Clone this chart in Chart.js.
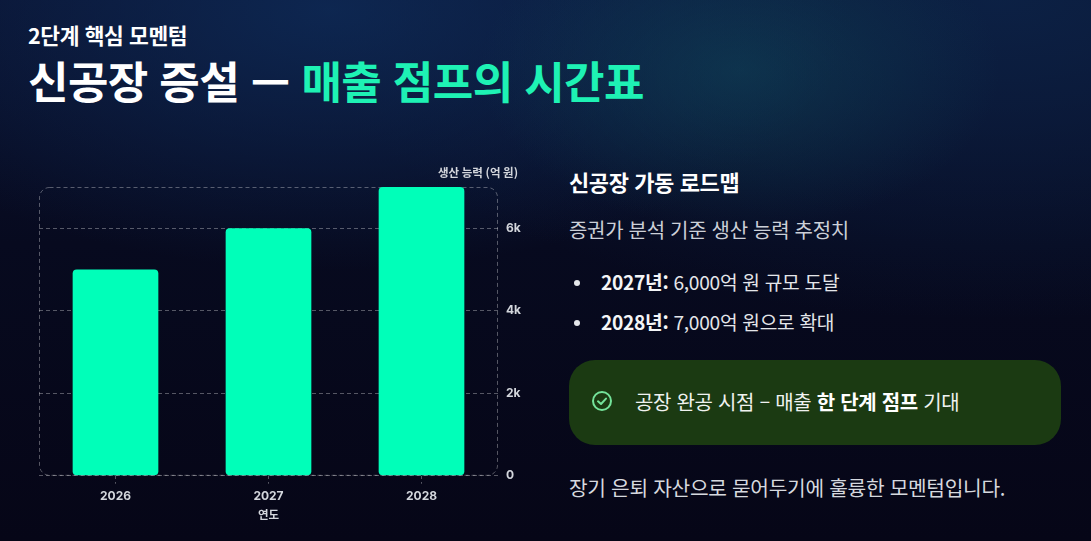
<!DOCTYPE html>
<html lang="ko">
<head>
<meta charset="utf-8">
<script src="https://cdn.jsdelivr.net/npm/chart.js@4/dist/chart.umd.min.js"></script>
<style>
  html, body { margin:0; padding:0; }
  body {
    width:1091px; height:541px; overflow:hidden; position:relative;
    font-family: "Noto Sans CJK KR", "Noto Sans", sans-serif;
    color:#fff;
    background:
      radial-gradient(ellipse 260px 160px at 740px 70px, rgba(16,70,90,0.55), rgba(16,70,90,0) 100%),
      radial-gradient(ellipse 520px 260px at 330px 10px, rgba(14,42,86,0.85), rgba(14,42,86,0) 100%),
      radial-gradient(ellipse 700px 320px at 1000px 0px, rgba(12,34,70,0.9), rgba(12,34,70,0) 100%),
      linear-gradient(180deg, #0a1230 0%, #070a1f 45%, #060617 100%);
  }
  .eyebrow { position:absolute; left:28px; top:19px; font-size:21.5px; font-weight:700; letter-spacing:-0.4px; }
  .title { position:absolute; left:28px; top:54px; font-size:44px; font-weight:700; letter-spacing:-0.6px; line-height:1.2; }
  .title .hl { color:#1ef2b4; }
  .chartwrap { position:absolute; left:0; top:150px; width:560px; height:380px; }
  .right { position:absolute; left:569px; top:0; width:500px; }
  .rh { position:absolute; top:165px; left:0; font-size:22px; font-weight:700; white-space:nowrap; letter-spacing:-0.4px; }
  .rs { position:absolute; top:215px; left:0; font-size:20px; color:#ccd0d8; white-space:nowrap; letter-spacing:-0.3px; }
  .li { position:absolute; left:0; font-size:19.2px; color:#e4e6ea; white-space:nowrap; letter-spacing:-0.3px; }
  .li .dot { position:absolute; left:5px; top:12px; width:6px; height:6px; border-radius:50%; background:#e4e6ea; }
  .li .t { position:absolute; left:32px; top:0; }
  .li b { color:#f4f5f7; font-weight:700; }
  .box { position:absolute; left:0; top:360px; width:492px; height:85px; border-radius:26px; background:#1b3a12; }
  .box svg { position:absolute; left:22px; top:30px; }
  .box .bt { position:absolute; left:66px; top:27px; font-size:20px; white-space:nowrap; color:#f0f2f0; letter-spacing:-0.3px; }
  .box .bt b { font-weight:700; color:#fff; }
  .foot { position:absolute; top:472px; left:0; font-size:20.3px; color:#d6d9df; white-space:nowrap; letter-spacing:-0.3px; }
</style>
</head>
<body>
<div class="eyebrow">2단계 핵심 모멘텀</div>
<div class="title">신공장 증설 — <span class="hl">매출 점프의 시간표</span></div>

<div class="chartwrap"><canvas id="c"></canvas></div>

<div class="right">
  <div class="rh">신공장 가동 로드맵</div>
  <div class="rs">증권가 분석 기준 생산 능력 추정치</div>
  <div class="li" style="top:268px"><span class="dot"></span><span class="t"><b>2027년:</b> 6,000억 원 규모 도달</span></div>
  <div class="li" style="top:308px"><span class="dot"></span><span class="t"><b>2028년:</b> 7,000억 원으로 확대</span></div>
  <div class="box">
    <svg width="22" height="22" viewBox="0 0 22 22"><circle cx="11" cy="11" r="9" fill="none" stroke="#74e39a" stroke-width="2"/><path d="M7 11.3 L10 14 L15 8.6" fill="none" stroke="#74e39a" stroke-width="2" stroke-linecap="round" stroke-linejoin="round"/></svg>
    <div class="bt">공장 완공 시점 – 매출 <b>한 단계 점프</b> 기대</div>
  </div>
  <div class="foot">장기 은퇴 자산으로 묻어두기에 훌륭한 모멘텀입니다.</div>
</div>

<script>
const years = ['2026', '2027', '2028'];
const capacity = [5000, 6000, 7000];
const yTicks = [0, 2000, 4000, 6000];
const yMax = 7000;
const yTitle = '생산 능력 (억 원)';
const xTitle = '연도';

const gridColor = 'rgba(255,255,255,0.32)';
const labelColor = '#d3d6dc';

const frame = {
  id: 'frame',
  beforeDatasetsDraw(chart) {
    const {ctx, chartArea: a} = chart;
    ctx.save();
    ctx.strokeStyle = gridColor;
    ctx.lineWidth = 1;
    ctx.setLineDash([4, 3]);
    ctx.beginPath();
    ctx.roundRect(a.left + 0.5, a.top + 0.5, a.right - a.left - 1, a.bottom - a.top - 1, 10);
    ctx.stroke();
    ctx.restore();
  },
  afterDraw(chart) {
    const {ctx, chartArea: a} = chart;
    ctx.save();
    ctx.font = '700 11.5px "Noto Sans CJK KR", sans-serif';
    ctx.fillStyle = labelColor;
    ctx.textAlign = 'right';
    ctx.textBaseline = 'middle';
    ctx.fillText(yTitle, a.right + 20, a.top - 14);
    ctx.restore();
  }
};

new Chart(document.getElementById('c'), {
  type: 'bar',
  data: {
    labels: years,
    datasets: [{
      data: capacity,
      backgroundColor: '#00ffb9',
      borderRadius: 4,
      borderSkipped: false,
      barPercentage: 0.7,
      categoryPercentage: 0.8
    }]
  },
  options: {
    responsive: true,
    maintainAspectRatio: false,
    animation: false,
    layout: { padding: { left: 39, right: 32, top: 37, bottom: 8 } },
    plugins: { legend: { display: false }, tooltip: { enabled: false } },
    scales: {
      x: {
        grid: { display: true, offset: false, drawOnChartArea: false, drawTicks: true, tickLength: 8, color: gridColor, tickColor: gridColor, tickBorderDash: [3, 3] },
        border: { display: false },
        ticks: { color: labelColor, font: { family: 'Inter, "Noto Sans CJK KR", sans-serif', size: 12, weight: '700' }, padding: 5 },
        title: { display: true, text: xTitle, color: labelColor, font: { family: '"Noto Sans CJK KR", sans-serif', size: 11.5, weight: '700' }, padding: { top: 0, bottom: 0 } }
      },
      y: {
        position: 'right',
        min: 0,
        max: yMax,
        afterBuildTicks(scale) { scale.ticks = yTicks.map(v => ({ value: v })); },
        afterFit(scale) { scale.width = 30; },
        grid: { color: gridColor, drawTicks: false, lineWidth: 1 },
        border: { display: false, dash: [4, 3] },
        ticks: {
          color: labelColor, padding: 8,
          font: { family: 'Inter, "Noto Sans CJK KR", sans-serif', size: 12, weight: '700' },
          callback: v => v === 0 ? '0' : (v / 1000) + 'k'
        }
      }
    }
  },
  plugins: [frame]
});
</script>
</body>
</html>
